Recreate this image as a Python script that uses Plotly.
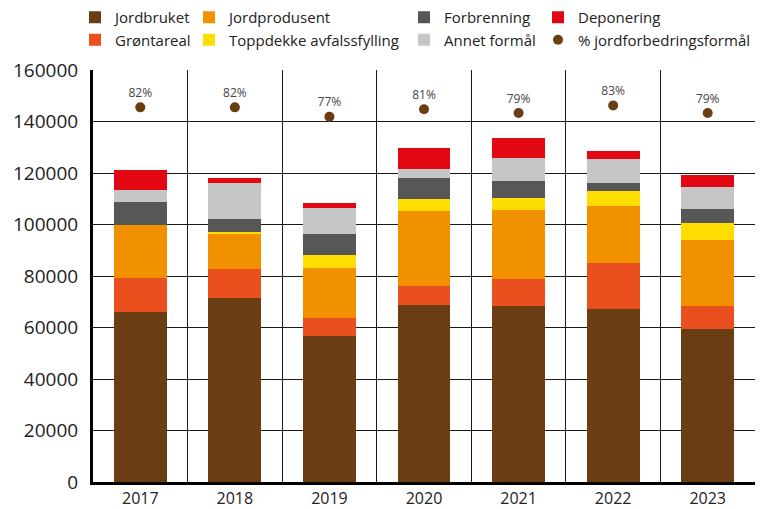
import plotly.graph_objects as go

years = ["2017", "2018", "2019", "2020", "2021", "2022", "2023"]

jordbruket = [66000, 71400, 56700, 68700, 68300, 67200, 59400]
grontareal = [13200, 11300, 7000, 7400, 10500, 17800, 8900]
jordprodusent = [20600, 13600, 19400, 29100, 26800, 22200, 25700]
toppdekke = [0, 800, 5000, 4700, 4700, 5800, 6600]
forbrenning = [8900, 5000, 8200, 8100, 6600, 3100, 5400]
annet = [4700, 14000, 10100, 3500, 8900, 9300, 8500]
deponering = [7700, 1900, 1900, 8200, 7800, 3100, 4700]
pct_jordforbedring = [82, 82, 77, 81, 79, 83, 79]

y_ticks = [0, 20000, 40000, 60000, 80000, 100000, 120000, 140000, 160000]

FONT = "Open Sans"
TXT = "#222222"

series = [
    ("Jordbruket", jordbruket, "#6A3D13", "legend", 1),
    ("Grøntareal", grontareal, "#E9501E", "legend", 2),
    ("Jordprodusent", jordprodusent, "#F29100", "legend2", 1),
    ("Toppdekke avfalssfylling", toppdekke, "#FFDD00", "legend2", 2),
    ("Forbrenning", forbrenning, "#575756", "legend3", 1),
    ("Annet formål", annet, "#C6C6C6", "legend3", 2),
    ("Deponering", deponering, "#E30613", "legend4", 1),
]

fig = go.Figure()
for name, vals, color, leg, rank in series:
    fig.add_trace(go.Bar(
        x=years, y=vals, name=name, marker=dict(color=color, line=dict(width=0)),
        width=0.56, legend=leg, legendrank=rank,
    ))

fig.add_trace(go.Scatter(
    x=years, y=pct_jordforbedring, yaxis="y2", mode="markers+text",
    name="% jordforbedringsformål",
    marker=dict(color="#6A3D13", size=10),
    text=[f"{v}%" for v in pct_jordforbedring],
    textposition="top center",
    textfont=dict(family=FONT, size=12, color="#444444"),
    legend="legend4", legendrank=2, cliponaxis=False,
))

# page has an 8px body margin; figure drawn at page (8, 8)
OFF = 8
W, H = 768 - OFF, 509 - OFF
L, R, T, B = 93 - OFF, 13, 70 - OFF, 27
pw = W - L - R
ph = H - T - B

def lx(page_px):
    return (page_px - OFF - L) / pw

def ly(page_py):
    return (H - B - (page_py - OFF)) / ph

leg_common = dict(
    orientation="v", yanchor="top",
    xanchor="left", font=dict(family=FONT, size=15, color=TXT),
    bgcolor="rgba(0,0,0,0)", borderwidth=0, tracegroupgap=0,
    traceorder="normal", itemclick=False,
)
ytop = ly(1)

fig.update_layout(
    width=W, height=H,
    margin=dict(l=L, r=R, t=T, b=B, autoexpand=False),
    plot_bgcolor="white", paper_bgcolor="white",
    barmode="stack", bargap=0.44,
    font=dict(family=FONT, color=TXT),
    legend=dict(leg_common, x=lx(75), y=ytop),
    legend2=dict(leg_common, x=lx(189), y=ytop),
    legend3=dict(leg_common, x=lx(404), y=ytop),
    legend4=dict(leg_common, x=lx(538), y=ytop),
    xaxis=dict(
        type="category", tickson="boundaries", showgrid=True,
        gridcolor="#1a1a1a", gridwidth=1,
        showline=True, linecolor="black", linewidth=3,
        ticks="", tickfont=dict(family=FONT, size=16, color=TXT),
        range=[-0.5, 6.5],
    ),
    yaxis=dict(
        range=[0, 160000], tickvals=y_ticks, tickformat="d",
        showgrid=True, gridcolor="#1a1a1a", gridwidth=1,
        showline=True, linecolor="black", linewidth=3,
        ticks="", ticklabelstandoff=8,
        tickfont=dict(family=FONT, size=19, color=TXT),
        zeroline=False,
    ),
    yaxis2=dict(
        overlaying="y", range=[-117.6, 101.9], visible=False,
    ),
)

fig.write_html("out.html")
